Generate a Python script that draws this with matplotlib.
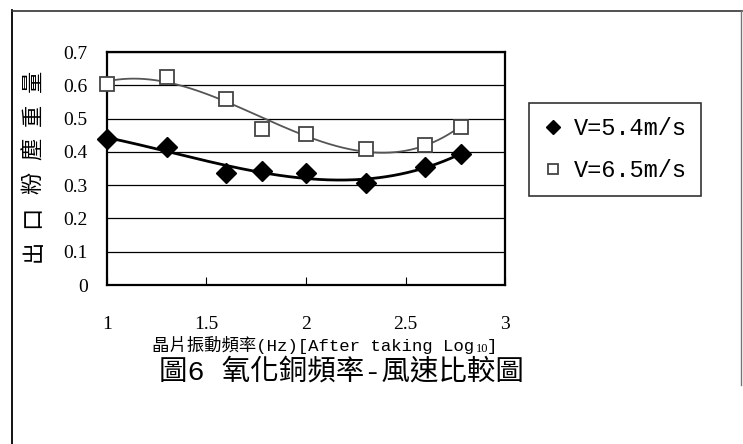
import numpy as np
import matplotlib
matplotlib.use("Agg")
import matplotlib.pyplot as plt
from matplotlib.lines import Line2D

# datos (log10 da frequência)
x_vals = [1.0, 1.30, 1.60, 1.78, 2.0, 2.30, 2.60, 2.78]
v54 = [0.44, 0.415, 0.335, 0.343, 0.337, 0.307, 0.355, 0.395]
v65 = [0.605, 0.625, 0.56, 0.47, 0.455, 0.41, 0.42, 0.475]
labels = ['V=5.4m/s', 'V=6.5m/s']
x_ticks = [1, 1.5, 2, 2.5, 3]
y_ticks = [0, 0.1, 0.2, 0.3, 0.4, 0.5, 0.6, 0.7]
ylabel_chars = list('出口粉塵重量')
xlabel_parts = ['晶片振動頻率(Hz)[After taking Log', '10', ']']
title = '圖6 氧化銅頻率-風速比較圖'

cjk = ['Liberation Mono', 'Noto Sans CJK TC', 'DejaVu Sans']
serif = 'Liberation Serif'

fig = plt.figure(figsize=(7.43, 4.44), dpi=100)
ax = fig.add_axes([107/743, 1-285/444, 398/743, 233/444])

# linhas de tendência (polinomial)
xs = np.linspace(min(x_vals), max(x_vals), 200)
p1 = np.polyfit(x_vals, v54, 3)
p2 = np.polyfit(x_vals, v65, 3)
ax.plot(xs, np.polyval(p2, xs), color='#555555', lw=1.3, zorder=3)
ax.plot(xs, np.polyval(p1, xs), color='black', lw=2.0, zorder=3)

ax.plot(x_vals, v54, linestyle='none', marker='D', markersize=10, color='black',
        label=labels[0], clip_on=False, zorder=5)
ax.plot(x_vals, v65, linestyle='none', marker='s', markersize=10, markerfacecolor='white',
        markeredgecolor='#444444', markeredgewidth=1.3, label=labels[1], clip_on=False, zorder=4)

ax.set_xlim(1, 3)
ax.set_ylim(0, 0.7)
ax.set_xticks(x_ticks)
ax.set_xticklabels([str(t) for t in x_ticks], fontfamily=serif, fontsize=14)
ax.set_yticks(y_ticks)
ax.set_yticklabels([f'{t:g}' for t in y_ticks], fontfamily=serif, fontsize=14)
ax.tick_params(axis='x', direction='in', length=6, pad=22)
ax.tick_params(axis='y', length=0, pad=14)
ax.yaxis.grid(True, color='black', lw=0.9)
ax.set_axisbelow(True)
for s in ax.spines.values():
    s.set_linewidth(1.6)

# rótulo do eixo y, caractere por caractere
for i, ch in enumerate(ylabel_chars):
    fig.text(33/743, 1 - (251 - i*34)/444, ch, rotation=90, ha='center', va='center',
             fontsize=16, family=['Noto Sans CJK TC', 'DejaVu Sans'])

# rótulo do eixo x com subscrito
t0 = fig.text(152/743, 1-345/444, xlabel_parts[0], ha='left', va='center',
              fontsize=12.5, family=cjk)
ax.annotate(xlabel_parts[1], xy=(1, 0), xycoords=t0, xytext=(1, -1),
            textcoords='offset points', ha='left', va='bottom', fontsize=9, family=serif)
ax.annotate(xlabel_parts[2], xy=(1, 0), xycoords=t0, xytext=(9, 0),
            textcoords='offset points', ha='left', va='bottom', fontsize=12.5, family=cjk)

fig.text(341/743, 1-372/444, title, ha='center', va='center', fontsize=20.5, family=cjk)

leg = fig.legend(loc='upper left', bbox_to_anchor=(529/743, 1-103/444), frameon=True,
                 fancybox=False, edgecolor='black', handlelength=0.8, handletextpad=0.5,
                 borderpad=0.6, labelspacing=0.8, borderaxespad=0, markerscale=0.7,
                 prop={'family': cjk, 'size': 17})
leg.get_frame().set_linewidth(1.2)

# moldura externa
fig.add_artist(Line2D([12/743, 12/743], [0, 1-10/444], color='black', lw=1.3))
fig.add_artist(Line2D([12/743, 742/743], [1-11/444, 1-11/444], color='#333333', lw=1.2))
fig.add_artist(Line2D([741/743, 741/743], [1-11/444, 1-385/444], color='#777777', lw=1.0))

fig.savefig('out.png', dpi=100)
